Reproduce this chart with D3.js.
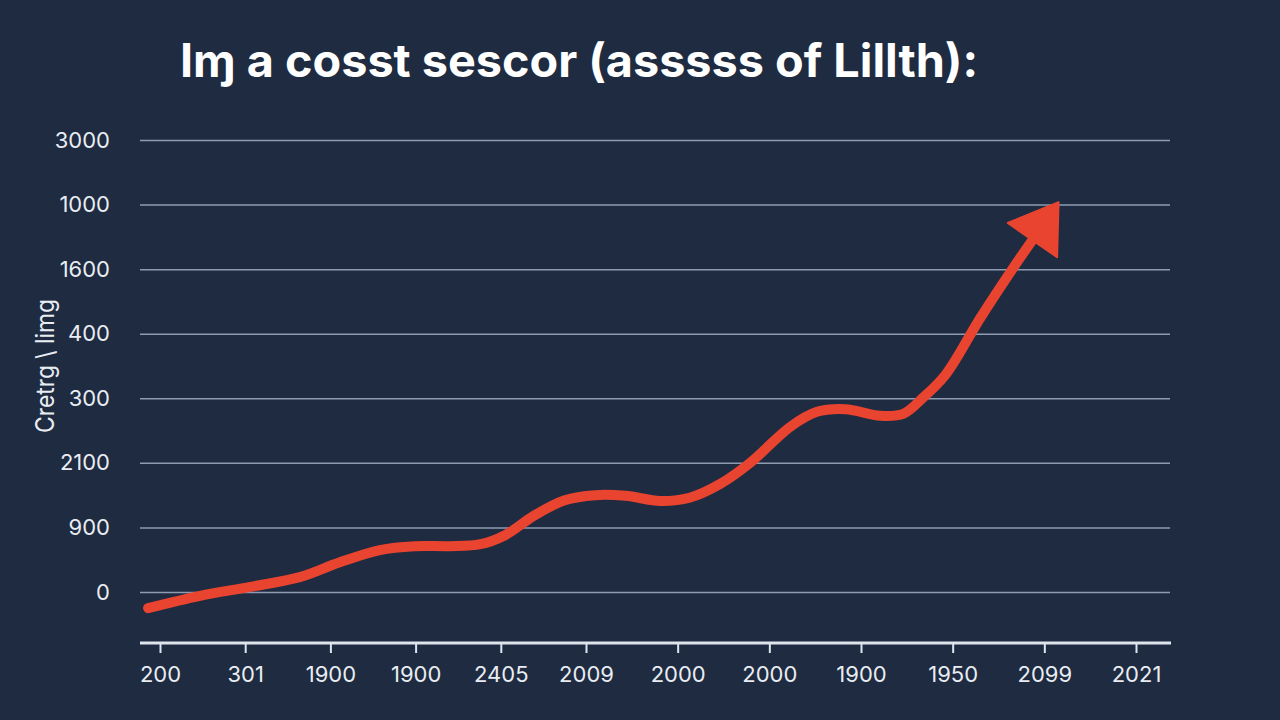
<!DOCTYPE html>
<html>
<head>
<meta charset="utf-8">
<script src="https://cdn.jsdelivr.net/npm/d3@7/dist/d3.min.js"></script>
<style>
  html, body { margin: 0; padding: 0; background: #1e2b40; }
  #chart { width: 1280px; height: 720px; }
</style>
</head>
<body>
<div id="chart"></div>
<script>
// tick labels as printed on the chart (y from bottom to top)
var yTickLabels = ['0', '900', '2100', '300', '400', '1600', '1000', '3000'];
var xTickLabels = ['200', '301', '1900', '1900', '2405', '2009', '2000', '2000', '1900', '1950', '2099', '2021'];

// series, x in tick positions, y in gridline steps
var seriesX = [-0.14, 0.47, 1.06, 1.64, 2.11, 2.58, 2.99, 3.40, 3.76, 4.05, 4.40, 4.75, 5.10, 5.43, 5.81, 6.13, 6.46, 6.79, 7.23, 7.52, 7.83, 8.21, 8.46, 8.67, 8.92, 9.30, 9.68, 9.87];
var seriesY = [-0.25, -0.06, 0.08, 0.23, 0.46, 0.65, 0.71, 0.71, 0.74, 0.88, 1.19, 1.42, 1.50, 1.49, 1.41, 1.46, 1.67, 2.00, 2.56, 2.79, 2.83, 2.73, 2.76, 3.00, 3.36, 4.24, 5.06, 5.45];

var titleText = 'I\u0271 a cosst sescor (asssss of Lillth):';
var yTitleText = 'Cretrg \\ limg';

var RiseChart = function () {

  var id;

  function init(options) {
    id = options.id;
    draw();
  }

  function draw() {

    var container = d3.select('#' + id);

    var width = 1280, height = 720;
    var left = 140, right = 1171, top = 140, bottom = 592, axisY = 643;

    var x = d3.scaleLinear()
      .domain([0, 5, 11])
      .range([160, 586, 1136]);

    var y = d3.scaleLinear()
      .domain([0, yTickLabels.length - 1])
      .range([bottom, top]);

    var svg = container.append('svg')
      .attr('width', width)
      .attr('height', height)
      .style('font-family', 'Inter, "Open Sans", sans-serif');

    svg.append('rect')
      .attr('width', width)
      .attr('height', height)
      .attr('fill', '#1e2b40');

    // Title
    svg.append('text')
      .attr('x', 180)
      .attr('y', 77)
      .attr('textLength', 798)
      .attr('lengthAdjust', 'spacingAndGlyphs')
      .attr('fill', '#ffffff')
      .style('font-size', '46px')
      .style('font-weight', 700)
      .text(titleText);

    // Gridlines + y labels
    var yAxis = svg.append('g')
      .attr('transform', 'translate(' + (right - 1) + ',0)')
      .call(d3.axisLeft(y)
        .tickValues(d3.range(yTickLabels.length))
        .tickFormat(function (d) { return yTickLabels[d]; })
        .tickSize(right - 1 - left)
        .tickPadding(30));

    yAxis.select('.domain').remove();
    yAxis.selectAll('line')
      .attr('stroke', '#8e9bb0')
      .attr('stroke-width', 1.5);
    yAxis.selectAll('text')
      .attr('fill', '#e9edf3')
      .style('font-size', '22px')
      .style('font-family', 'Inter, "Open Sans", sans-serif');

    // Y title
    svg.append('text')
      .attr('transform', 'translate(54,366) rotate(-90)')
      .attr('text-anchor', 'middle')
      .attr('textLength', 134)
      .attr('lengthAdjust', 'spacingAndGlyphs')
      .attr('fill', '#e9edf3')
      .style('font-size', '25px')
      .text(yTitleText);

    // X axis
    var xAxis = svg.append('g')
      .attr('transform', 'translate(0,' + axisY + ')')
      .call(d3.axisBottom(x)
        .tickValues(d3.range(xTickLabels.length))
        .tickFormat(function (d) { return xTickLabels[d]; })
        .tickSize(10)
        .tickPadding(13));

    xAxis.select('.domain').remove();
    xAxis.selectAll('line')
      .attr('stroke', '#dfe5ee')
      .attr('stroke-width', 2);
    xAxis.selectAll('text')
      .attr('fill', '#e9edf3')
      .style('font-size', '22px')
      .style('font-family', 'Inter, "Open Sans", sans-serif');

    svg.append('line')
      .attr('x1', left)
      .attr('x2', right)
      .attr('y1', axisY)
      .attr('y2', axisY)
      .attr('stroke', '#dfe5ee')
      .attr('stroke-width', 3);

    // Line
    var points = seriesX.map(function (d, i) { return [x(d), y(seriesY[i])]; });

    var line = d3.line()
      .x(function (d) { return d[0]; })
      .y(function (d) { return d[1]; })
      .curve(d3.curveCatmullRom.alpha(0.5));

    svg.append('path')
      .datum(points)
      .attr('d', line)
      .attr('fill', 'none')
      .attr('stroke', '#e8442f')
      .attr('stroke-width', 10)
      .attr('stroke-linecap', 'round')
      .attr('stroke-linejoin', 'round');

    // Arrow head from the last segment
    var p = points[points.length - 1], q = points[points.length - 2];
    var dx = p[0] - q[0], dy = p[1] - q[1];
    var len = Math.sqrt(dx * dx + dy * dy);
    dx /= len; dy /= len;
    var head = [
      [p[0] + dx * 46, p[1] + dy * 46],
      [p[0] - dy * 30, p[1] + dx * 30],
      [p[0] + dy * 30, p[1] - dx * 30]
    ];

    svg.append('polygon')
      .attr('points', head.map(function (d) { return d.join(','); }).join(' '))
      .attr('fill', '#e8442f')
      .attr('stroke', '#e8442f')
      .attr('stroke-width', 2)
      .attr('stroke-linejoin', 'round');
  }

  return {
    init: init,
    draw: draw
  };
};

RiseChart().init({ id: 'chart' });
</script>
</body>
</html>
